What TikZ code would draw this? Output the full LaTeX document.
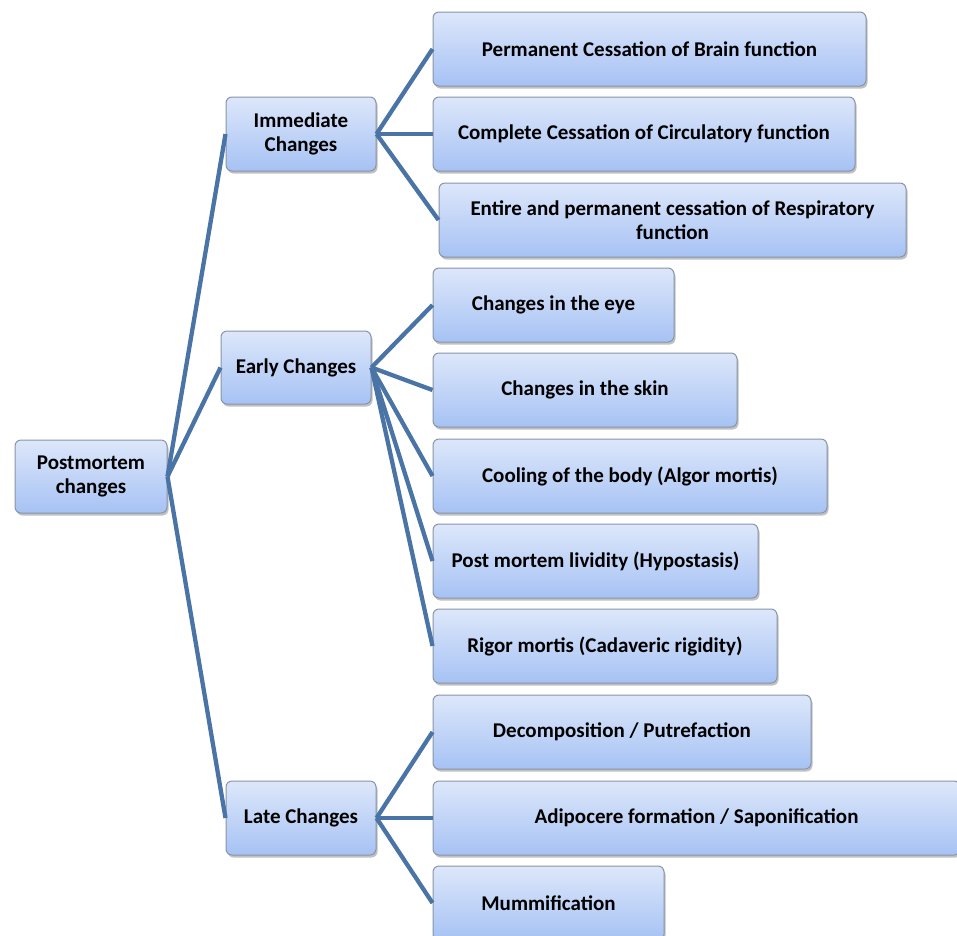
\documentclass[tikz,border=0pt]{standalone}
\usepackage{fontspec}
\setmainfont{Carlito}
\usetikzlibrary{shadows}
\definecolor{boxtop}{HTML}{DDE7FA}
\definecolor{boxbot}{HTML}{A6C2F4}
\definecolor{boxline}{HTML}{8894A8}
\definecolor{conn}{HTML}{4A74A6}
\begin{document}
\begin{tikzpicture}[x=1pt,y=-1pt,
  box/.style={draw=boxline, line width=1pt, rounded corners=6pt,
    top color=boxtop, bottom color=boxbot, align=center,
    font=\fontsize{21}{24.5}\selectfont\bfseries, inner sep=0pt,
    drop shadow={shadow xshift=1.5pt, shadow yshift=-2.5pt, opacity=0.35, fill=black!70}},
  conline/.style={draw=conn, line width=4.3pt}]
\useasboundingbox (0,0) rectangle (957,935);
\newcommand{\bx}[6]{\node[box, minimum width=#4-#2, minimum height=#5-#3] (#1) at ({(#2+#4)/2},{(#3+#5)/2}) {#6};}
\bx{root}{15}{440}{167}{513}{Postmortem\\changes}
\bx{imm}{226}{97}{376}{171}{Immediate\\Changes}
\bx{early}{221}{331}{371}{404}{Early Changes}
\bx{late}{226}{781}{376}{855}{Late Changes}
\bx{la}{433}{12}{866}{86}{Permanent Cessation of Brain function}
\bx{lb}{433}{97}{855}{171}{Complete Cessation of Circulatory function}
\bx{lc}{439}{183}{906}{257}{Entire and permanent cessation of Respiratory\\function}
\bx{ld}{433}{268}{674}{342}{Changes in the eye}
\bx{le}{433}{353}{737}{427}{Changes in the skin}
\bx{lf}{433}{439}{827}{513}{Cooling of the body (Algor mortis)}
\bx{lg}{433}{524}{758}{598}{Post mortem lividity (Hypostasis)}
\bx{lh}{433}{609}{777}{683}{Rigor mortis (Cadaveric rigidity)}
\bx{li}{433}{695}{811}{769}{Decomposition / Putrefaction}
\bx{lj}{433}{781}{960}{855}{Adipocere formation / Saponification}
\bx{lk}{433}{866}{664}{940}{Mummification}
\foreach \t in {imm,early,late} \draw[conline] (root.east) -- (\t.west);
\foreach \t in {la,lb,lc} \draw[conline] (imm.east) -- (\t.west);
\foreach \t in {ld,le,lf,lg,lh} \draw[conline] (early.east) -- (\t.west);
\foreach \t in {li,lj,lk} \draw[conline] (late.east) -- (\t.west);
\end{tikzpicture}
\end{document}
